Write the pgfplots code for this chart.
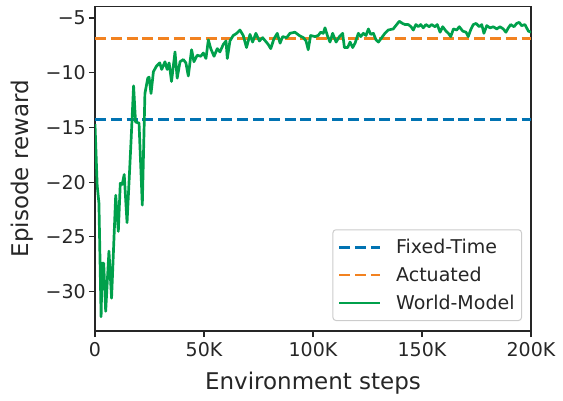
\documentclass[border=0pt]{standalone}
\usepackage{fontspec}
\setmainfont{DejaVu Sans}
\usepackage{pgfplots}
\pgfplotsset{compat=1.18}

\definecolor{cfixed}{HTML}{0173B2}
\definecolor{cact}{HTML}{F28220}
\definecolor{cwm}{HTML}{00A04B}
\definecolor{spine}{HTML}{262626}

% world-model learning curve, x in thousands of env steps
\pgfplotstableread{
x y
0 -14.7
1.0 -20.3
1.8 -21.9
2.8 -32.3
3.3 -27.4
4.0 -27.4
4.9 -31.8
6.4 -26.3
7.6 -30.6
9.5 -21.2
10.7 -24.5
11.6 -20.1
12.5 -20.2
13.4 -19.3
14.7 -23.7
16.5 -16.4
17.7 -11.2
18.6 -14.5
20.2 -14.6
21.7 -22.1
22.9 -11.9
24.2 -10.5
24.8 -10.4
25.7 -11.9
26.8 -9.9
28.2 -9.4
29.7 -9.1
30.6 -9.7
32.1 -9.0
33.1 -9.7
34.0 -9.1
35.1 -10.8
36.7 -8.1
37.7 -10.5
39.0 -9.0
40.5 -8.8
41.7 -9.1
42.8 -10.3
44.3 -7.9
45.4 -9.0
46.9 -8.4
48.5 -8.5
49.7 -8.2
50.9 -8.7
52.0 -7.0
53.1 -7.8
54.6 -8.5
56.1 -7.8
57.3 -8.1
58.9 -7.4
60.1 -7.1
60.7 -8.7
61.9 -7.1
63.4 -6.6
65.0 -6.4
66.5 -6.1
68.0 -6.6
69.5 -7.7
71.1 -6.5
72.3 -7.2
73.8 -6.4
75.4 -7.1
76.9 -6.8
79.4 -7.4
80.6 -7.8
82.1 -6.9
83.6 -6.4
84.9 -7.3
86.1 -6.7
87.9 -6.8
89.4 -6.4
91.7 -6.3
93.7 -6.6
95.6 -6.8
96.8 -7.1
97.8 -7.9
98.9 -6.6
100.9 -6.7
102.4 -6.6
103.5 -6.3
104.7 -6.4
105.5 -5.9
106.6 -6.6
107.8 -7.2
109.0 -6.4
110.6 -7.2
112.1 -6.7
113.6 -6.4
114.4 -7.7
115.9 -7.7
117.0 -7.2
118.2 -7.7
119.3 -7.3
120.8 -6.4
121.9 -6.7
123.1 -6.4
124.3 -6.6
125.4 -6.0
126.5 -6.5
127.7 -6.4
128.9 -7.0
130.0 -7.2
131.5 -6.8
133.0 -6.4
134.5 -6.1
136.8 -6.0
138.4 -5.6
139.6 -5.3
141.1 -5.5
142.2 -5.6
143.7 -5.6
145.0 -5.8
146.0 -6.1
147.2 -5.6
148.3 -5.8
149.4 -5.6
150.6 -5.9
151.8 -5.6
153.3 -5.8
154.4 -5.6
156.0 -5.8
157.0 -5.6
158.3 -6.3
159.5 -5.8
161.0 -6.2
162.1 -6.4
163.2 -6.7
164.4 -6.0
165.9 -6.1
167.1 -5.8
168.7 -6.2
170.2 -6.3
171.2 -6.7
172.3 -6.1
173.5 -5.6
174.8 -5.5
176.3 -5.8
177.4 -5.6
178.4 -6.4
179.7 -5.7
181.2 -5.9
182.7 -5.8
184.3 -6.0
185.8 -5.8
187.3 -6.0
188.5 -6.3
189.6 -5.9
190.7 -5.6
192.2 -5.8
193.4 -5.5
194.6 -5.4
195.7 -5.7
197.2 -5.6
198.8 -6.2
200.0 -6.3
}\wmdata

\begin{document}
\begin{tikzpicture}
\begin{axis}[
  scale only axis, width=436bp, height=324.5bp,
  xmin=0, xmax=200, ymin=-33.6, ymax=-3.95,
  axis line style={spine, line width=1.2bp},
  tick pos=left, tick align=outside,
  major tick length=6bp,
  every tick/.style={spine, line width=1.2bp},
  xtick={0,50,100,150,200},
  xticklabels={0,50K,100K,150K,200K},
  ytick={-30,-25,-20,-15,-10,-5},
  yticklabels={−30,−25,−20,−15,−10,−5},
  ticklabel style={font=\fontsize{19bp}{22bp}\selectfont, text=spine},
  xticklabel style={anchor=north, inner sep=0pt, yshift=-5bp},
  yticklabel style={anchor=east, inner sep=0pt, xshift=-3bp},
  xlabel={Environment steps},
  ylabel={Episode reward},
  every axis x label/.style={at={(axis description cs:0.5,0)}, anchor=base, yshift=-58bp,
    font=\fontsize{23bp}{27bp}\selectfont, text=spine},
  every axis y label/.style={at={(axis description cs:0,0.5)}, rotate=90, anchor=center, yshift=73bp,
    font=\fontsize{23bp}{27bp}\selectfont, text=spine},
  legend style={at={(axis description cs:1,0)}, anchor=south east, xshift=-9bp, yshift=10bp,
    font=\fontsize{19bp}{22bp}\selectfont, text=spine,
    draw=black!20, line width=1bp, rounded corners=3bp, fill=white, fill opacity=0.8, text opacity=1,
    inner xsep=5bp, inner ysep=7.5bp, row sep=8bp},
  legend cell align=left,
  legend image code/.code={\draw[#1] (0bp,0bp) -- (41bp,0bp); \path (53.5bp,0bp);},
]
\addplot[cfixed, line width=2.7bp, dash pattern=on 11bp off 4.8bp] coordinates {(0,-14.27) (200,-14.27)};
\addlegendentry{Fixed-Time}
\addplot[cact, line width=2.7bp, dash pattern=on 11bp off 4.8bp] coordinates {(0,-6.86) (200,-6.86)};
\addlegendentry{Actuated}
\addplot[cwm, line width=2.7bp, line join=round] table[x=x, y=y] {\wmdata};
\addlegendentry{World-Model}
\end{axis}
\pgfresetboundingbox
\path ([shift={(-95bp,-70bp)}]current axis.south west) rectangle ([shift={(32bp,6.5bp)}]current axis.north east);
\end{tikzpicture}
\end{document}
